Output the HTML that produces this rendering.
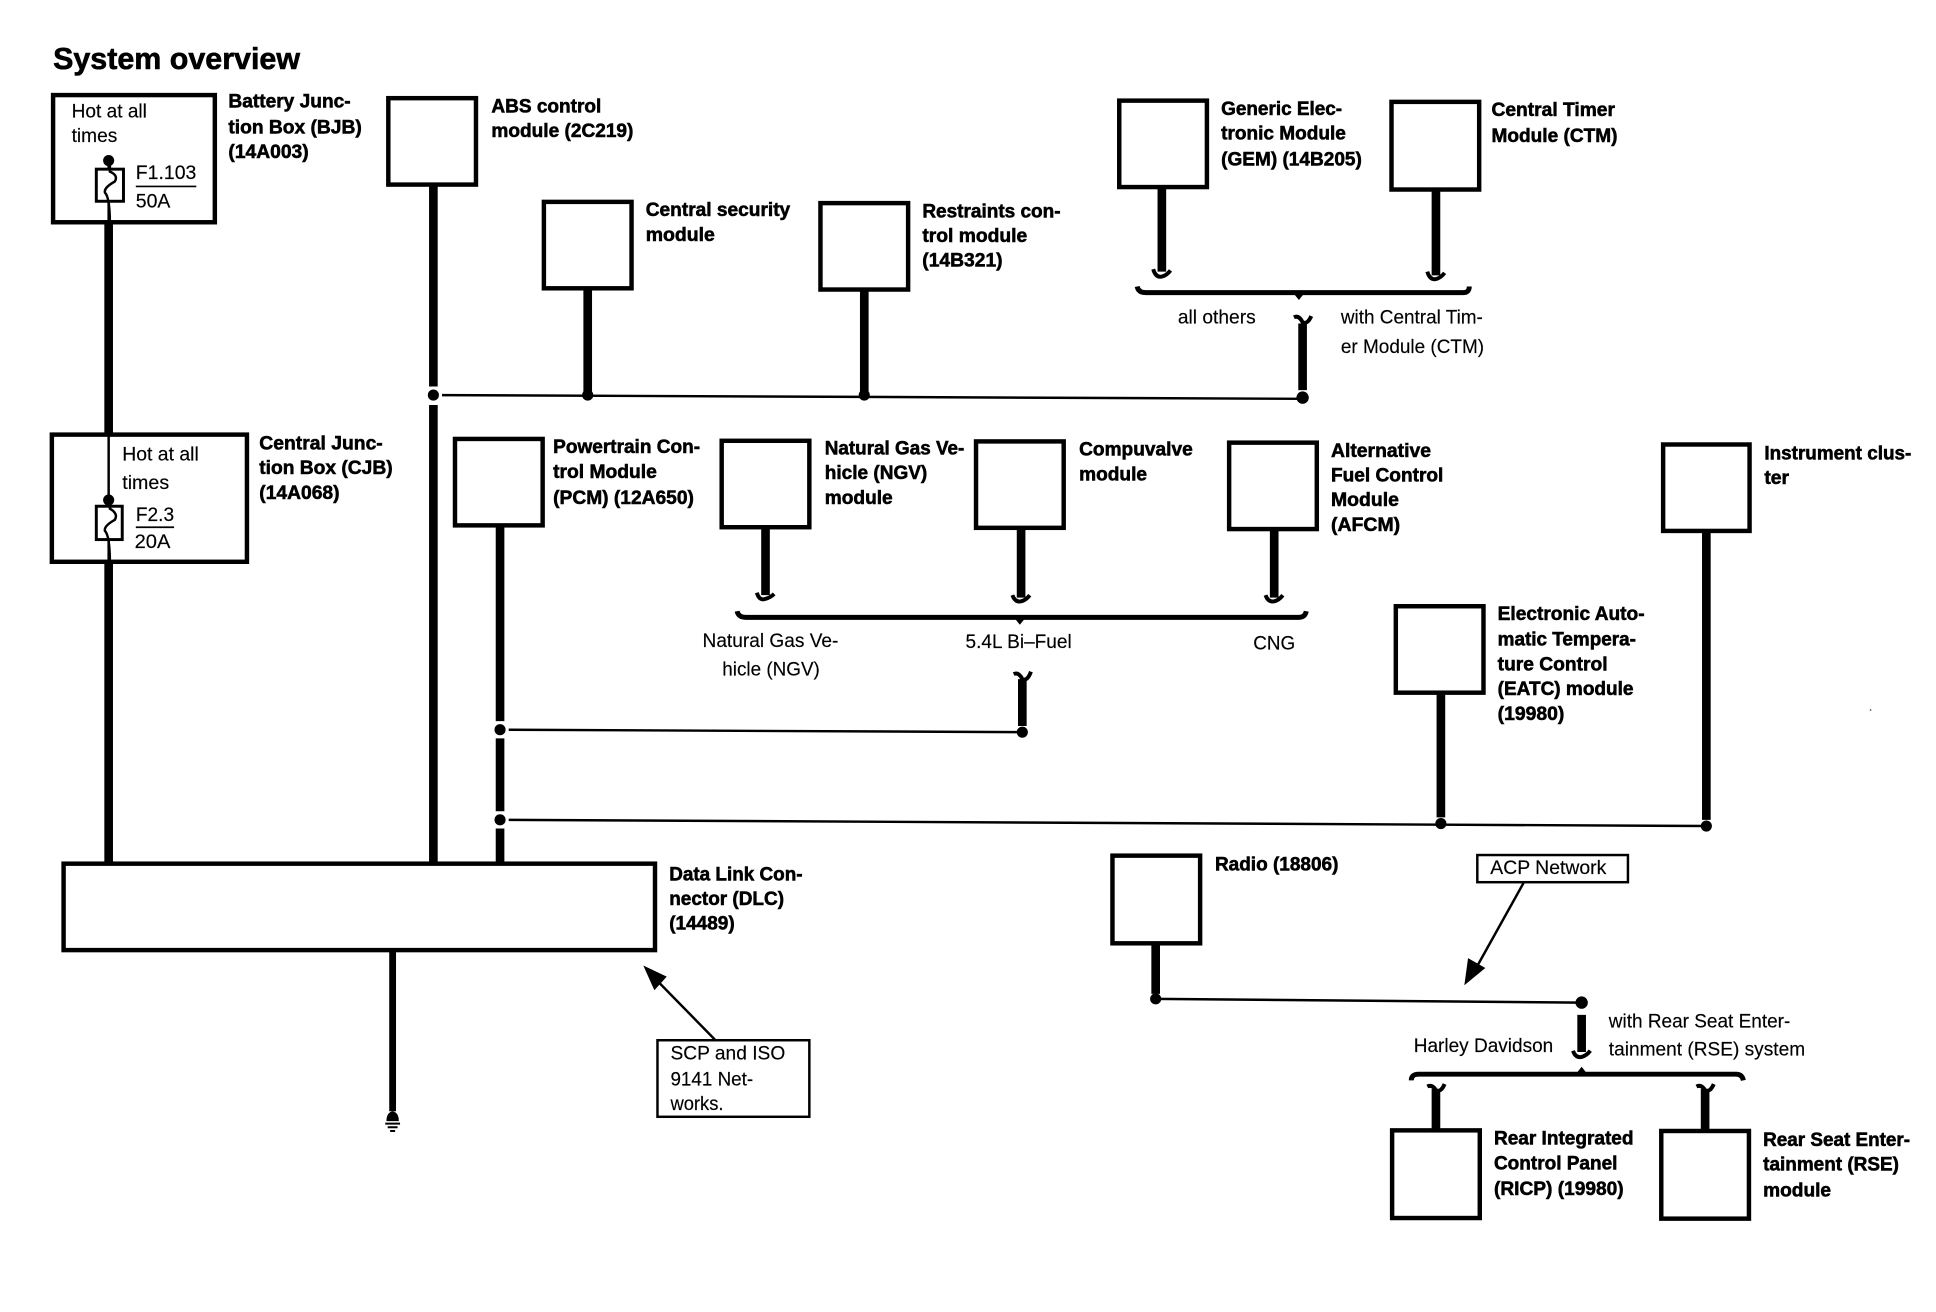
<!DOCTYPE html>
<html><head><meta charset="utf-8"><style>
html,body{margin:0;padding:0;background:#fff}
svg{display:block}
text{font-family:"Liberation Sans",sans-serif;fill:#000}
.b{font-weight:bold;font-size:15.5px;stroke:#000;stroke-width:.45}
.r{font-size:15.5px;stroke:#000;stroke-width:.12}
.box{fill:#fff;stroke:#000;stroke-width:3.6}
.w{fill:none;stroke:#000;stroke-width:7}
.t{fill:none;stroke:#000;stroke-width:2}
.s{fill:none;stroke:#000;stroke-width:3.2}
</style></head><body>
<svg width="1936" height="1312" viewBox="0 0 1568 1062.6" xmlns="http://www.w3.org/2000/svg">
<rect width="1568" height="1063" fill="#fff"/>
<text x="43" y="56" font-weight="bold" font-size="25" stroke="#000" stroke-width=".5" textLength="200" lengthAdjust="spacingAndGlyphs">System overview</text>

<!-- thick wires -->
<path class="w" d="M88 181V351M88 456V698M351 151V698M405 427V698M476 235V318M700 236V318M941 153V220M1163 155V223M1055 262V316M620 428V482M827 429V484M1032 430V484M828 550V588M1167 562V662M1382 431V664M936 765V805M1281 822V852M1163 882V915M1381 882V916"/>
<path class="w" style="stroke-width:5.5" d="M318 771V900"/>
<!-- white gaps around junctions -->
<path fill="none" stroke="#fff" stroke-width="9" d="M351 313V328M405 584V598M405 657V671"/>
<!-- thin wires -->
<path class="t" d="M358 320L1055 323M412 591L828 593M412 664L1382 669M936 809L1280 812"/>
<!-- junctions -->
<g fill="#000">
<circle cx="351" cy="320" r="4.5"/><circle cx="476" cy="320" r="4.5"/><circle cx="700" cy="320" r="4.5"/><circle cx="1055" cy="322" r="5"/>
<circle cx="405" cy="591" r="4.5"/><circle cx="828" cy="593" r="4.5"/><circle cx="405" cy="664" r="4.5"/><circle cx="1167" cy="667" r="4.5"/><circle cx="1382" cy="669" r="4.5"/>
<circle cx="936" cy="809" r="4.5"/><circle cx="1281" cy="812" r="5"/>
</g>

<!-- boxes -->
<rect class="box" x="43" y="77" width="131" height="103"/>
<rect class="box" x="42" y="352" width="158" height="103"/>
<rect class="box" x="314.500" y="79.500" width="71" height="70"/>
<rect class="box" x="440.500" y="163.500" width="71" height="70"/>
<rect class="box" x="664.500" y="164.500" width="71" height="70"/>
<rect class="box" x="906.500" y="81.500" width="71" height="70"/>
<rect class="box" x="1127" y="82.500" width="71" height="71"/>
<rect class="box" x="368.500" y="355.500" width="71" height="70"/>
<rect class="box" x="584.500" y="357" width="71" height="70"/>
<rect class="box" x="790.500" y="357.500" width="71" height="70"/>
<rect class="box" x="995.500" y="358.500" width="71" height="70"/>
<rect class="box" x="1347" y="360" width="70" height="70"/>
<rect class="box" x="1130.500" y="491" width="71" height="70"/>
<rect class="box" x="51.500" y="699.500" width="479" height="70"/>
<rect class="box" x="901" y="693" width="71" height="71"/>
<rect class="box" x="1127.500" y="915.500" width="71" height="71"/>
<rect class="box" x="1345.500" y="916" width="71" height="71"/>

<!-- fuses -->
<path class="t" d="M88 130V181M88 351V456"/>
<circle cx="88" cy="130" r="4.500"/><circle cx="88" cy="405" r="4.500"/>
<rect x="78" y="137" width="22" height="26" fill="#fff" stroke="#000" stroke-width="2.400"/>
<rect x="78" y="410" width="21" height="27" fill="#fff" stroke="#000" stroke-width="2.400"/>
<path class="t" d="M89 130V139Q96 142 93 147Q84 152 85 156Q89 160 89 181"/>
<path class="t" d="M89 405V412Q96 416 93 421Q84 426 85 430Q89 434 89 456"/>
<path class="t" d="M110 151H159M110 427H141" style="stroke-width:1.400"/>

<!-- squiggles at open wire ends -->
<path class="s" d="M934 218Q936 225 941 224Q945 223 948 219"/>
<path class="s" d="M1156 220Q1158 227 1163 226Q1167 225 1170 221"/>
<path class="s" d="M1048 257Q1052 255 1055 261Q1059 263 1062 256"/>
<path class="s" d="M613 480Q615 487 620 485Q624 484 627 481"/>
<path class="s" d="M820 482Q822 488 827 487Q831 486 834 482"/>
<path class="s" d="M1025 482Q1027 488 1032 487Q1036 486 1039 482"/>
<path class="s" d="M821 546Q825 544 828 550Q832 552 835 544"/>
<path class="s" d="M1274 851Q1276 857 1281 856Q1285 855 1288 851"/>
<path class="s" d="M1156 880Q1160 878 1163 883Q1167 885 1170 878"/>
<path class="s" d="M1374 880Q1378 878 1381 883Q1385 885 1388 878"/>

<!-- braces -->
<path class="w" style="stroke-width:4" d="M921 232Q922 237 928 237H1185Q1190 237 1190 232"/>
<path class="w" style="stroke-width:4" d="M597 495Q598 500 604 500H1052Q1057 500 1058 495"/>
<path class="w" style="stroke-width:4" d="M1143 875Q1143 870 1149 870H1406Q1411 870 1412 875"/>
<path d="M1048 238h8l-4 5zM822 501h8l-4 5zM1277 869h8l-4-5z" fill="#000"/>

<!-- ground -->
<path d="M313 908Q313 901 318 900Q323 901 323 908Z" fill="#000"/>
<path d="M312 910H324M314 913H322M316 916H320" stroke="#000" stroke-width="1.600"/>

<!-- callouts -->
<rect x="532.500" y="842.500" width="123" height="62" fill="#fff" stroke="#000" stroke-width="2"/>
<rect x="1196.500" y="692.500" width="122" height="22" fill="#fff" stroke="#000" stroke-width="2"/>
<path class="t" d="M579 842L533 795M1234 715L1195 785"/>
<path d="M521 782L540 791L530 802ZM1186 798L1189 776L1203 784Z" fill="#000"/>
<circle cx="1515" cy="575" r=".7" fill="#555"/>

<!-- bold labels -->
<text class="b" x="185" y="87" textLength="99" lengthAdjust="spacingAndGlyphs">Battery Junc-</text>
<text class="b" x="185" y="108" textLength="108" lengthAdjust="spacingAndGlyphs">tion Box (BJB)</text>
<text class="b" x="185" y="128" textLength="65" lengthAdjust="spacingAndGlyphs">(14A003)</text>
<text class="b" x="398" y="91" textLength="89" lengthAdjust="spacingAndGlyphs">ABS control</text>
<text class="b" x="398" y="111" textLength="115" lengthAdjust="spacingAndGlyphs">module (2C219)</text>
<text class="b" x="523" y="175" textLength="117" lengthAdjust="spacingAndGlyphs">Central security</text>
<text class="b" x="523" y="195" textLength="56" lengthAdjust="spacingAndGlyphs">module</text>
<text class="b" x="747" y="176" textLength="112" lengthAdjust="spacingAndGlyphs">Restraints con-</text>
<text class="b" x="747" y="196" textLength="85" lengthAdjust="spacingAndGlyphs">trol module</text>
<text class="b" x="747" y="216" textLength="65" lengthAdjust="spacingAndGlyphs">(14B321)</text>
<text class="b" x="989" y="93" textLength="98" lengthAdjust="spacingAndGlyphs">Generic Elec-</text>
<text class="b" x="989" y="113" textLength="101" lengthAdjust="spacingAndGlyphs">tronic Module</text>
<text class="b" x="989" y="134" textLength="114" lengthAdjust="spacingAndGlyphs">(GEM) (14B205)</text>
<text class="b" x="1208" y="94" textLength="100" lengthAdjust="spacingAndGlyphs">Central Timer</text>
<text class="b" x="1208" y="115" textLength="102" lengthAdjust="spacingAndGlyphs">Module (CTM)</text>
<text class="b" x="210" y="364" textLength="100" lengthAdjust="spacingAndGlyphs">Central Junc-</text>
<text class="b" x="210" y="384" textLength="108" lengthAdjust="spacingAndGlyphs">tion Box (CJB)</text>
<text class="b" x="210" y="404" textLength="65" lengthAdjust="spacingAndGlyphs">(14A068)</text>
<text class="b" x="448" y="367" textLength="119" lengthAdjust="spacingAndGlyphs">Powertrain Con-</text>
<text class="b" x="448" y="387" textLength="84" lengthAdjust="spacingAndGlyphs">trol Module</text>
<text class="b" x="448" y="408" textLength="114" lengthAdjust="spacingAndGlyphs">(PCM) (12A650)</text>
<text class="b" x="668" y="368" textLength="113" lengthAdjust="spacingAndGlyphs">Natural Gas Ve-</text>
<text class="b" x="668" y="388" textLength="83" lengthAdjust="spacingAndGlyphs">hicle (NGV)</text>
<text class="b" x="668" y="408" textLength="55" lengthAdjust="spacingAndGlyphs">module</text>
<text class="b" x="874" y="369" textLength="92" lengthAdjust="spacingAndGlyphs">Compuvalve</text>
<text class="b" x="874" y="389" textLength="55" lengthAdjust="spacingAndGlyphs">module</text>
<text class="b" x="1078" y="370" textLength="81" lengthAdjust="spacingAndGlyphs">Alternative</text>
<text class="b" x="1078" y="390" textLength="91" lengthAdjust="spacingAndGlyphs">Fuel Control</text>
<text class="b" x="1078" y="410" textLength="55" lengthAdjust="spacingAndGlyphs">Module</text>
<text class="b" x="1078" y="430" textLength="56" lengthAdjust="spacingAndGlyphs">(AFCM)</text>
<text class="b" x="1429" y="372" textLength="119" lengthAdjust="spacingAndGlyphs">Instrument clus-</text>
<text class="b" x="1429" y="392" textLength="20" lengthAdjust="spacingAndGlyphs">ter</text>
<text class="b" x="1213" y="502" textLength="119" lengthAdjust="spacingAndGlyphs">Electronic Auto-</text>
<text class="b" x="1213" y="523" textLength="112" lengthAdjust="spacingAndGlyphs">matic Tempera-</text>
<text class="b" x="1213" y="543" textLength="89" lengthAdjust="spacingAndGlyphs">ture Control</text>
<text class="b" x="1213" y="563" textLength="110" lengthAdjust="spacingAndGlyphs">(EATC) module</text>
<text class="b" x="1213" y="583" textLength="54" lengthAdjust="spacingAndGlyphs">(19980)</text>
<text class="b" x="984" y="705" textLength="100" lengthAdjust="spacingAndGlyphs">Radio (18806)</text>
<text class="b" x="542" y="713" textLength="108" lengthAdjust="spacingAndGlyphs">Data Link Con-</text>
<text class="b" x="542" y="733" textLength="93" lengthAdjust="spacingAndGlyphs">nector (DLC)</text>
<text class="b" x="542" y="753" textLength="53" lengthAdjust="spacingAndGlyphs">(14489)</text>
<text class="b" x="1210" y="927" textLength="113" lengthAdjust="spacingAndGlyphs">Rear Integrated</text>
<text class="b" x="1210" y="947" textLength="100" lengthAdjust="spacingAndGlyphs">Control Panel</text>
<text class="b" x="1210" y="968" textLength="105" lengthAdjust="spacingAndGlyphs">(RICP) (19980)</text>
<text class="b" x="1428" y="928" textLength="119" lengthAdjust="spacingAndGlyphs">Rear Seat Enter-</text>
<text class="b" x="1428" y="948" textLength="110" lengthAdjust="spacingAndGlyphs">tainment (RSE)</text>
<text class="b" x="1428" y="969" textLength="55" lengthAdjust="spacingAndGlyphs">module</text>

<!-- regular labels -->
<text class="r" x="58" y="95" textLength="61" lengthAdjust="spacingAndGlyphs">Hot at all</text>
<text class="r" x="58" y="115" textLength="37" lengthAdjust="spacingAndGlyphs">times</text>
<text class="r" x="110" y="145" textLength="49" lengthAdjust="spacingAndGlyphs">F1.103</text>
<text class="r" x="110" y="168" textLength="28" lengthAdjust="spacingAndGlyphs">50A</text>
<text class="r" x="99" y="373" textLength="62" lengthAdjust="spacingAndGlyphs">Hot at all</text>
<text class="r" x="99" y="396" textLength="38" lengthAdjust="spacingAndGlyphs">times</text>
<text class="r" x="110" y="422" textLength="31" lengthAdjust="spacingAndGlyphs">F2.3</text>
<text class="r" x="109" y="444" textLength="29" lengthAdjust="spacingAndGlyphs">20A</text>
<text class="r" x="954" y="262" textLength="63" lengthAdjust="spacingAndGlyphs">all others</text>
<text class="r" x="1086" y="262" textLength="115" lengthAdjust="spacingAndGlyphs">with Central Tim-</text>
<text class="r" x="1086" y="286" textLength="116" lengthAdjust="spacingAndGlyphs">er Module (CTM)</text>
<text class="r" x="569" y="524" textLength="110" lengthAdjust="spacingAndGlyphs">Natural Gas Ve-</text>
<text class="r" x="585" y="547" textLength="79" lengthAdjust="spacingAndGlyphs">hicle (NGV)</text>
<text class="r" x="782" y="525" textLength="86" lengthAdjust="spacingAndGlyphs">5.4L Bi–Fuel</text>
<text class="r" x="1015" y="526" textLength="34" lengthAdjust="spacingAndGlyphs">CNG</text>
<text class="r" x="1207" y="708" textLength="94" lengthAdjust="spacingAndGlyphs">ACP Network</text>
<text class="r" x="543" y="858" textLength="93" lengthAdjust="spacingAndGlyphs">SCP and ISO</text>
<text class="r" x="543" y="879" textLength="67" lengthAdjust="spacingAndGlyphs">9141 Net-</text>
<text class="r" x="543" y="899" textLength="43" lengthAdjust="spacingAndGlyphs">works.</text>
<text class="r" x="1145" y="852" textLength="113" lengthAdjust="spacingAndGlyphs">Harley Davidson</text>
<text class="r" x="1303" y="832" textLength="147" lengthAdjust="spacingAndGlyphs">with Rear Seat Enter-</text>
<text class="r" x="1303" y="855" textLength="159" lengthAdjust="spacingAndGlyphs">tainment (RSE) system</text>
</svg>
</body></html>
